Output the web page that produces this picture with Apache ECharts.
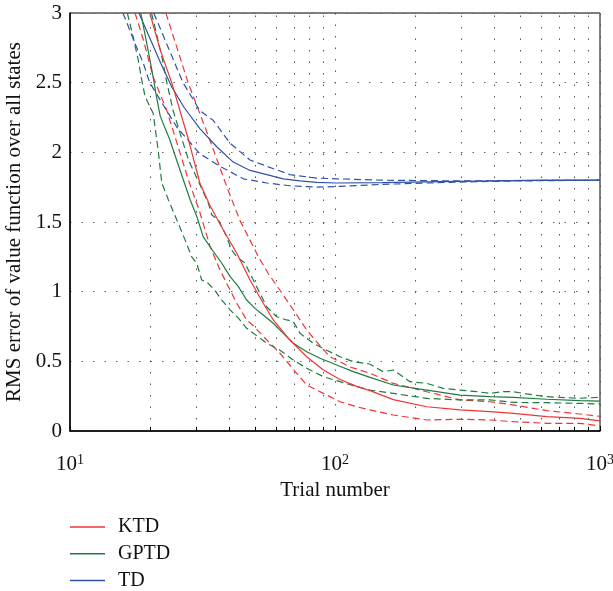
<!DOCTYPE html>
<html><head><meta charset="utf-8">
<script src="https://cdn.jsdelivr.net/npm/echarts@6/dist/echarts.min.js"></script>
<style>html,body{margin:0;padding:0;background:#fff}#c{width:613px;height:591px}</style>
</head><body><div id="c"></div>
<script>
// ---- data (trial number, RMS error) ----
const ktdMean = [[20,3.0],[21.9,2.735],[24.2,2.50],[28,2.09],[30.9,1.78],[33.7,1.62],[37.9,1.443],[42.6,1.276],[47.8,1.084],[53.6,0.917],[58.5,0.797],[67.6,0.653],[78.2,0.533],[90.4,0.438],[104.5,0.37],[120.8,0.32],[135.6,0.29],[166,0.225],[222,0.174],[296.5,0.151],[385,0.139],[471,0.127],[630,0.103],[841,0.091],[1000,0.072]];
const ktdUpper = [[23,3.0],[27.9,2.5],[33.7,2.09],[39.1,1.75],[43.8,1.51],[47.8,1.37],[51.4,1.25],[56,1.13],[62,1.01],[69.6,0.87],[78.2,0.725],[85.3,0.64],[95.7,0.533],[114,0.46],[135.6,0.414],[166,0.342],[222,0.282],[296.5,0.223],[385,0.21],[471,0.187],[630,0.146],[841,0.122],[1000,0.105]];
const ktdLower = [[17.6,3.0],[18.9,2.81],[20.6,2.54],[23.2,2.30],[25.3,2.07],[28,1.80],[30.9,1.57],[33.7,1.33],[36.8,1.156],[39.6,1.036],[42.6,0.917],[46.4,0.797],[49.2,0.755],[55.3,0.653],[62,0.558],[71.7,0.414],[78.2,0.33],[90.4,0.27],[104.5,0.21],[120.8,0.174],[135.6,0.151],[166,0.115],[222,0.079],[296.5,0.084],[385,0.079],[471,0.067],[630,0.055],[841,0.055],[1000,0.036]];
const gptdMean = [[18.5,3.0],[19.7,2.735],[20.6,2.54],[21.2,2.40],[21.9,2.26],[23.8,2.09],[26.8,1.80],[28.4,1.66],[30.1,1.54],[31.8,1.395],[34.7,1.29],[37.4,1.204],[40.2,1.108],[43.2,1.036],[46.4,0.94],[49.9,0.88],[53.6,0.833],[58.5,0.773],[63.8,0.701],[69.6,0.63],[78.2,0.569],[87.8,0.522],[101.5,0.474],[117.2,0.426],[135.6,0.385],[166,0.33],[222,0.294],[296.5,0.258],[385,0.246],[471,0.242],[630,0.228],[841,0.218],[1000,0.215]];
const gptdUpper = [[20.3,3.0],[20.9,2.90],[22.2,2.69],[23.2,2.50],[24.5,2.30],[26,2.14],[28,1.945],[30.9,1.77],[33.3,1.634],[34.3,1.55],[36.3,1.515],[39,1.395],[40.7,1.30],[42.6,1.25],[45.8,1.204],[47.8,1.13],[49.9,1.06],[55.3,0.89],[60.3,0.82],[65.7,0.797],[69.6,0.785],[73.8,0.701],[82.8,0.63],[93,0.58],[104.5,0.533],[117.2,0.497],[135,0.481],[152,0.426],[166,0.438],[192,0.354],[222,0.342],[256,0.306],[296.5,0.294],[343,0.282],[385,0.27],[430,0.282],[471,0.282],[528,0.266],[630,0.246],[841,0.235],[1000,0.242]];
const gptdLower = [[16.45,3.0],[17.3,2.83],[18.1,2.66],[18.65,2.52],[19.2,2.40],[20.6,2.28],[21.5,2.02],[22.2,1.78],[23.5,1.66],[25.3,1.515],[27.2,1.37],[28.8,1.25],[30.1,1.204],[31.4,1.084],[32.8,1.07],[35.2,1.01],[37.4,0.94],[40.2,0.869],[43.2,0.81],[46.4,0.737],[49.2,0.701],[55.3,0.63],[62,0.58],[69.6,0.51],[78.2,0.45],[90.4,0.39],[104.5,0.354],[120.8,0.318],[135.6,0.294],[166,0.27],[222,0.234],[296.5,0.223],[385,0.223],[471,0.205],[630,0.203],[841,0.198],[1000,0.194]];
const tdMean = [[18.2,3.0],[20,2.82],[22,2.64],[24.2,2.47],[27,2.32],[30.9,2.17],[35.8,2.04],[41.3,1.93],[47.8,1.87],[55.3,1.84],[63.8,1.81],[73.8,1.795],[85.3,1.785],[101.5,1.78],[150,1.783],[250,1.79],[400,1.795],[600,1.80],[1000,1.80]];
const tdUpper = [[20.7,3.0],[26.7,2.5],[30.9,2.30],[34.7,2.23],[40.2,2.065],[47.8,1.945],[55.3,1.90],[67.6,1.84],[85.3,1.815],[101.5,1.81],[150,1.80],[300,1.795],[1000,1.80]];
const tdLower = [[15.85,3.0],[17.6,2.78],[18.9,2.64],[20,2.50],[21.2,2.42],[25.3,2.18],[30.9,1.99],[36.8,1.90],[45.1,1.81],[55.3,1.78],[67.6,1.76],[85.3,1.75],[101.5,1.755],[150,1.77],[271,1.785],[500,1.795],[1000,1.80]];

const legendNames = ['KTD','GPTD','TD'];
const yTicks = [0,0.5,1,1.5,2,2.5,3];
const xMajorTicks = [10,100,1000];
const xMinorTicks = [20,30,40,50,60,70,80,90,200,300,400,500,600,700,800,900];

const colors = {KTD:'#ee3535', GPTD:'#1f7b40', TD:'#3152a8'};
const FONT = 'Liberation Serif';

function mean(name, data){
  return {name, type:'line', data, showSymbol:false, symbol:'none', smooth:false, z:3,
    color: colors[name], lineStyle:{color:colors[name], width:1.2, type:'solid'}, silent:true};
}
function band(name, data){
  return {name: name + ' band', type:'line', data, showSymbol:false, symbol:'none', smooth:false, z:2,
    color: colors[name], lineStyle:{color:colors[name], width:1.2, type:[7,4]}, silent:true};
}

const helper = {
  name:'grid helper', type:'line', data:[], silent:true, z:1,
  markLine:{silent:true, symbol:'none', label:{show:false}, animation:false,
    lineStyle:{color:'#555', width:1, type:[1.5,10]},
    data: xMinorTicks.map(v => ({xAxis:v}))}
};
const tickHelper = {
  name:'tick helper', type:'line', data:[], silent:true, z:4,
  markLine:{silent:true, symbol:'none', label:{show:false}, animation:false,
    lineStyle:{color:'#000', width:1, type:'solid'},
    data: xMinorTicks.map(v => [{coord:[v,0]},{coord:[v,0.03]}])}
};

const chart = echarts.init(document.getElementById('c'), null, {renderer:'canvas'});
chart.setOption({
  animation:false,
  backgroundColor:'#fff',
  grid:{left:70, right:13, top:13, bottom:160, show:true, borderColor:'#000', borderWidth:1, backgroundColor:'transparent',
    containLabel:false, outerBoundsMode:'none'},
  legend:{data:legendNames, orient:'vertical', left:70, top:517, padding:0, icon:'rect', itemWidth:35, itemHeight:1.5,
    itemGap:6.7, textStyle:{fontFamily:FONT, fontSize:20, color:'#111', lineHeight:20, padding:[0,0,0,8]}, selectedMode:false},
  xAxis:{type:'log', logBase:10, min:10, max:1000,
    name:'Trial number', nameLocation:'middle', nameGap:47,
    nameTextStyle:{fontFamily:FONT, fontSize:21, color:'#111'},
    axisLine:{show:true, lineStyle:{color:'#000', width:1.5}},
    axisTick:{show:true, inside:true, length:5, lineStyle:{color:'#000'}},
    splitLine:{show:true, lineStyle:{color:'#555', width:1, type:[1.5,10]}},
    axisLabel:{margin:22, color:'#111', fontFamily:FONT,
      formatter: v => '{b|10}{s|' + Math.round(Math.log10(v)) + '}',
      rich:{b:{fontFamily:FONT, fontSize:21, color:'#111'}, s:{fontFamily:FONT, fontSize:14, color:'#111', verticalAlign:'top', padding:[0,0,9,0]}}}
  },
  yAxis:{type:'value', min:0, max:3, interval:0.5,
    name:'RMS error of value function over all states', nameLocation:'middle', nameGap:41,
    nameTextStyle:{fontFamily:FONT, fontSize:21, color:'#111'},
    axisLine:{show:true, lineStyle:{color:'#000', width:1.5}},
    axisTick:{show:false},
    splitLine:{show:true, lineStyle:{color:'#666', width:1, type:[1.5,10]}},
    axisLabel:{margin:8, color:'#111', fontFamily:FONT, fontSize:21,
      formatter: v => String(v)}
  },
  series:[
    helper, tickHelper,
    band('KTD', ktdUpper), band('KTD', ktdLower),
    band('GPTD', gptdUpper), band('GPTD', gptdLower),
    band('TD', tdUpper), band('TD', tdLower),
    mean('TD', tdMean), mean('GPTD', gptdMean), mean('KTD', ktdMean)
  ]
});
</script></body></html>
